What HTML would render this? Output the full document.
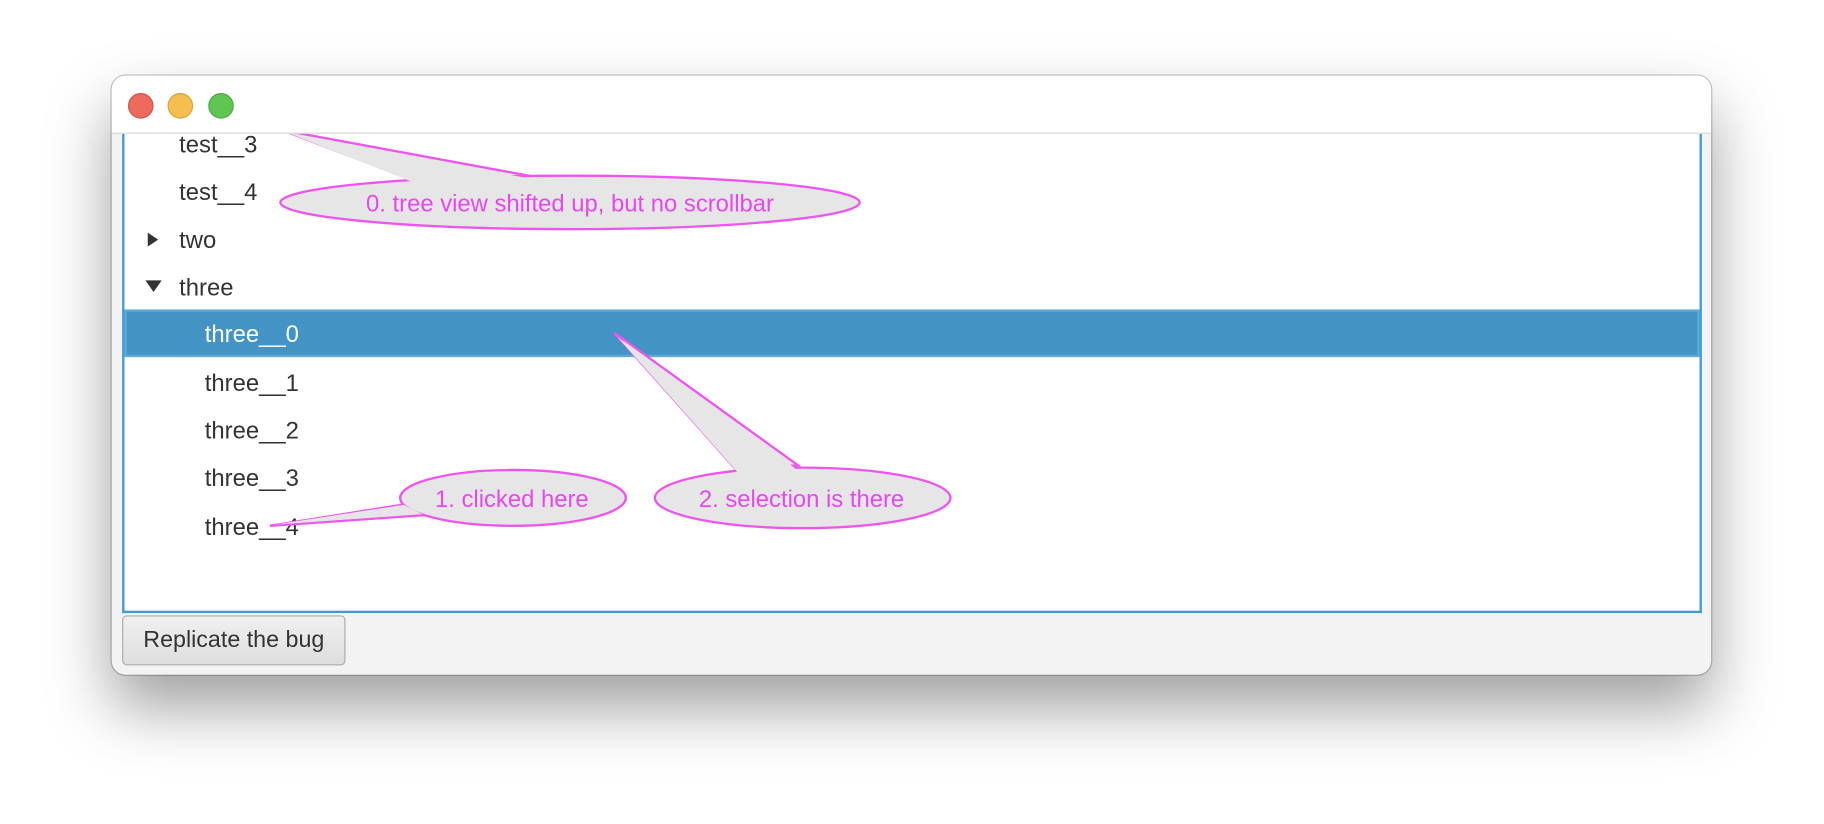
<!DOCTYPE html>
<html><head><meta charset="utf-8"><style>
html,body{margin:0;padding:0;background:#fff;width:1824px;height:824px;overflow:hidden}
#s{position:absolute;left:0;top:0;width:1568px;height:708px;transform:scale(1.16327);transform-origin:0 0;font-family:"Liberation Sans",sans-serif}
.win{position:absolute;left:96px;top:65px;width:1375px;height:515px;border-radius:12px;background:#f3f3f3;box-shadow:0 28px 55px rgba(0,0,0,0.38),0 0 0 1px #c4c4c4;overflow:hidden}
.title{position:absolute;left:0;top:0;width:100%;height:49px;background:#fff;border-bottom:1px solid #d6d6d6;z-index:2}
.dot{position:absolute;top:15px;width:20px;height:20px;border-radius:50%}
.tree{position:absolute;left:9px;top:49px;width:1354px;height:411px;background:#fff;border:2px solid #3f9bd6;border-top:none}
.row{position:absolute;left:0;width:100%;height:41px;line-height:41px;font-size:20.5px;color:#333}
.sel{background:#4394c5;color:#fff;box-shadow:inset 0 0 0 2px #5eaad6}
.btn{position:absolute;left:9px;top:464px;width:190px;height:41px;border:1px solid #aaa;border-radius:4px;background:linear-gradient(#f0f0f0,#dedede);font-size:20px;color:#333;line-height:41px;text-align:center}
</style></head><body><div id="s">
<div class="win">
 <div class="title">
  <div class="dot" style="left:14px;background:#ee6a5e;border:0.5px solid #d0524a"></div>
  <div class="dot" style="left:48px;background:#f5bf4f;border:0.5px solid #d8a03c"></div>
  <div class="dot" style="left:83px;background:#61c554;border:0.5px solid #4ea83f"></div>
 </div>
 <div class="tree">
  <div class="row" style="top:-10px"><span style="position:absolute;left:47px">test__3</span></div>
  <div class="row" style="top:31px"><span style="position:absolute;left:47px">test__4</span></div>
  <div class="row" style="top:72px"><span style="position:absolute;left:20px;top:14px;width:0;height:0;border-left:9px solid #333;border-top:6px solid transparent;border-bottom:6px solid transparent"></span><span style="position:absolute;left:47px">two</span></div>
  <div class="row" style="top:113px"><span style="position:absolute;left:18px;top:14px;width:0;height:0;border-top:10px solid #333;border-left:7px solid transparent;border-right:7px solid transparent"></span><span style="position:absolute;left:47px">three</span></div>
  <div class="row sel" style="top:152px;line-height:44px"><span style="position:absolute;left:69px">three__0</span></div>
  <div class="row" style="top:195px"><span style="position:absolute;left:69px">three__1</span></div>
  <div class="row" style="top:236px"><span style="position:absolute;left:69px">three__2</span></div>
  <div class="row" style="top:277px"><span style="position:absolute;left:69px">three__3</span></div>
  <div class="row" style="top:319px"><span style="position:absolute;left:69px">three__4</span></div>
 </div>
 <div class="btn">Replicate the bug</div>
</div>
<svg width="1568" height="708" style="position:absolute;left:0;top:0" font-family="Liberation Sans, sans-serif">
 <g fill="#e6e6e6" stroke="#ee55ee" stroke-width="2">
  <polygon points="355,155 243,112 460,152"/>
  <ellipse cx="490" cy="174" rx="249" ry="23"/>
  <polygon points="356,157 247,114 458,154" stroke="none"/>
  <polygon points="345,434 232,452 362,443"/>
  <ellipse cx="441" cy="428" rx="97" ry="24"/>
  <polygon points="347,434 236,451 363,442" stroke="none"/>
  <polygon points="633,404 528,286 686,400"/>
  <ellipse cx="690" cy="428" rx="127" ry="26"/>
  <polygon points="634,406 531,290 684,403" stroke="none"/>
 </g>
 <g fill="#e846f0" font-size="20.5" text-anchor="middle">
  <text x="490" y="182">0. tree view shifted up, but no scrollbar</text>
  <text x="440" y="436">1. clicked here</text>
  <text x="689" y="436">2. selection is there</text>
 </g>
</svg>
</div></body></html>
